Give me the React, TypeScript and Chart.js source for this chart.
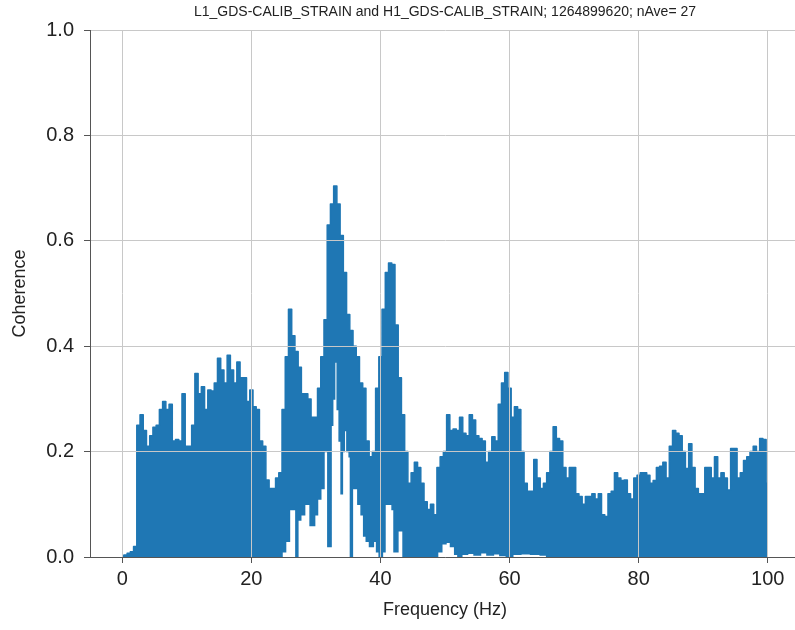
import React, { useEffect, useRef } from "react";
import { Chart, registerables } from "chart.js";
Chart.register(...registerables);

const TITLE = "L1_GDS-CALIB_STRAIN and H1_GDS-CALIB_STRAIN; 1264899620; nAve= 27";
const X_LABEL = "Frequency (Hz)";
const Y_LABEL = "Coherence";
const X_TICKS = [0, 20, 40, 60, 80, 100];
const Y_TICKS = [0, 0.2, 0.4, 0.6, 0.8, 1.0];

// Upper envelope of the coherence trace (Hz, coherence)
const upperFreq = [
  0, 0.5, 1, 1.5, 2, 2.5, 3, 3.5, 4, 4.5, 5, 5.5, 6, 6.5, 7, 7.5, 8, 8.5, 9, 9.5,
  10, 10.5, 11, 11.5, 12, 12.5, 13, 13.5, 14, 14.5, 15, 15.5, 16, 16.5, 17, 17.5, 18, 18.5, 19, 19.5,
  20, 20.5, 21, 21.5, 22, 22.5, 23, 23.5, 24, 24.5, 25, 25.5, 26, 26.5, 27, 27.5, 28, 28.5, 29, 29.5,
  30, 30.5, 31, 31.5, 32, 32.5, 33, 33.5, 34, 34.5, 35, 35.5, 36, 36.5, 37, 37.5, 38, 38.5, 39, 39.5,
  40, 40.5, 41, 41.5, 42, 42.5, 43, 43.5, 44, 44.5, 45, 45.5, 46, 46.5, 47, 47.5, 48, 48.5, 49, 49.5,
  50, 50.5, 51, 51.5, 52, 52.5, 53, 53.5, 54, 54.5, 55, 55.5, 56, 56.5, 57, 57.5, 58, 58.5, 59, 59.5,
  60, 60.5, 61, 61.5, 62, 62.5, 63, 63.5, 64, 64.5, 65, 65.5, 66, 66.5, 67, 67.5, 68, 68.5, 69, 69.5,
  70, 70.5, 71, 71.5, 72, 72.5, 73, 73.5, 74, 74.5, 75, 75.5, 76, 76.5, 77, 77.5, 78, 78.5, 79, 79.5,
  80, 80.5, 81, 81.5, 82, 82.5, 83, 83.5, 84, 84.5, 85, 85.5, 86, 86.5, 87, 87.5, 88, 88.5, 89, 89.5,
  90, 90.5, 91, 91.5, 92, 92.5, 93, 93.5, 94, 94.5, 95, 95.5, 96, 96.5, 97, 97.5, 98, 98.5, 99, 99.5,
  100,
];
const upperCoh = [
  0.002, 0.004, 0.007, 0.01, 0.02, 0.25, 0.27, 0.24, 0.21, 0.23, 0.246, 0.25, 0.28, 0.295, 0.28, 0.29, 0.22, 0.223, 0.22, 0.31,
  0.21, 0.21, 0.25, 0.348, 0.31, 0.323, 0.28, 0.317, 0.315, 0.33, 0.377, 0.355, 0.33, 0.383, 0.355, 0.33, 0.37, 0.34, 0.34, 0.295,
  0.317, 0.285, 0.28, 0.22, 0.21, 0.146, 0.13, 0.13, 0.15, 0.16, 0.28, 0.38, 0.47, 0.42, 0.39, 0.36, 0.31, 0.31, 0.3, 0.265,
  0.265, 0.32, 0.38, 0.45, 0.63, 0.67, 0.704, 0.67, 0.61, 0.54, 0.46, 0.43, 0.4, 0.38, 0.33, 0.32, 0.22, 0.19, 0.2, 0.32,
  0.38, 0.47, 0.54, 0.558, 0.555, 0.44, 0.34, 0.27, 0.2, 0.14, 0.16, 0.18, 0.17, 0.14, 0.105, 0.09, 0.1, 0.08, 0.17, 0.19,
  0.2, 0.27, 0.24, 0.243, 0.24, 0.265, 0.235, 0.23, 0.27, 0.26, 0.23, 0.225, 0.22, 0.18, 0.2, 0.228, 0.22, 0.29, 0.33, 0.35,
  0.32, 0.265, 0.285, 0.28, 0.2, 0.14, 0.125, 0.125, 0.185, 0.15, 0.13, 0.14, 0.16, 0.2, 0.247, 0.225, 0.22, 0.17, 0.15, 0.17,
  0.17, 0.12, 0.115, 0.1, 0.115, 0.115, 0.12, 0.11, 0.12, 0.08, 0.077, 0.12, 0.125, 0.16, 0.15, 0.145, 0.146, 0.12, 0.11, 0.15,
  0.155, 0.16, 0.16, 0.155, 0.14, 0.145, 0.17, 0.172, 0.18, 0.15, 0.21, 0.24, 0.235, 0.23, 0.2, 0.168, 0.215, 0.17, 0.13, 0.12,
  0.12, 0.17, 0.17, 0.15, 0.19, 0.15, 0.16, 0.15, 0.127, 0.206, 0.206, 0.15, 0.16, 0.183, 0.19, 0.2, 0.21, 0.2, 0.225, 0.223,
  0.14,
];

// Lower envelope of the coherence trace (Hz, coherence)
const lowerFreq = [
  0, 24.5, 25.0, 25.6, 26.2, 26.85, 26.95, 27.1, 27.3, 28.0, 28.5, 29.0, 29.2, 29.6, 30.0, 30.5, 31.0, 31.5, 31.8,
  31.9, 32.3, 32.4, 32.8, 33.0, 33.2, 33.4, 33.8, 34.0, 34.2, 34.6, 35.0, 35.3, 35.4, 35.6, 35.7, 36.2, 36.8, 37.2,
  37.6, 38.0, 38.6, 39.2, 39.6, 40.0, 40.6, 40.8, 41.6, 42.0, 42.2, 42.6, 42.8, 43.4, 43.6, 48.5, 49.2, 49.8, 50.5,
  51.2, 51.8, 52.2, 53, 54, 55, 56, 57, 58, 59, 60, 61, 62.5, 64, 65.5, 66, 100,
];
const lowerCoh = [
  0, 0, 0.01, 0.03, 0.09, 0.09, 0, 0, 0.07, 0.08, 0.1, 0.1, 0.06, 0.06, 0.08, 0.11, 0.13, 0.2, 0.2,
  0.02, 0.02, 0.25, 0.3, 0.37, 0.37, 0.28, 0.22, 0.12, 0.2, 0.24, 0.2, 0.19, 0, 0, 0.13, 0.13, 0.1, 0.08,
  0.04, 0.03, 0.02, 0.03, 0.01, 0, 0.01, 0.1, 0.1, 0.09, 0.01, 0.01, 0.05, 0.05, 0, 0, 0.01, 0.025, 0.028,
  0.02, 0.005, 0, 0.005, 0.007, 0.004, 0.008, 0.004, 0.006, 0.003, 0, 0.005, 0.006, 0.005, 0.004, 0, 0,
];

const BLUE = "#1f77b4";
const FONT = '"Liberation Sans", "DejaVu Sans", sans-serif';

export default function App() {
  const ref = useRef<HTMLCanvasElement | null>(null);
  useEffect(() => {
    const canvas = ref.current;
    if (!canvas) return;
    const textPlugin = {
      id: "texts",
      afterDraw(chart: any) {
        const ctx = chart.ctx;
        const a = chart.chartArea;
        const cx = (a.left + a.right) / 2;
        ctx.save();
        ctx.fillStyle = "#222";
        ctx.textAlign = "center";
        ctx.textBaseline = "middle";
        ctx.font = `14px ${FONT}`;
        ctx.fillText(TITLE, cx, 12);
        ctx.font = `18px ${FONT}`;
        ctx.fillText(X_LABEL, cx, 610);
        ctx.translate(20, (a.top + a.bottom) / 2);
        ctx.rotate(-Math.PI / 2);
        ctx.fillText(Y_LABEL, 0, 0);
        ctx.restore();
      },
    };
    const gridOpts = { color: "#c8c8c8", lineWidth: 1, tickLength: 6, tickColor: "#555", z: 1 };
    const chart = new Chart(canvas, {
      type: "line",
      data: {
        datasets: [
          {
            data: upperFreq.map((f, i) => ({ x: f, y: upperCoh[i] })),
            borderColor: BLUE,
            backgroundColor: BLUE,
            borderWidth: 1.5,
            borderJoinStyle: "round",
            pointRadius: 0,
            stepped: "middle",
            fill: 1,
          },
          {
            data: lowerFreq.map((f, i) => ({ x: f, y: lowerCoh[i] })),
            borderColor: BLUE,
            backgroundColor: BLUE,
            borderWidth: 1.5,
            pointRadius: 0,
            stepped: "middle",
            fill: false,
          },
        ],
      },
      options: {
        animation: false,
        responsive: false,
        devicePixelRatio: 1,
        layout: { padding: { top: 30, right: 20, left: 0, bottom: 0 } },
        plugins: { legend: { display: false }, tooltip: { enabled: false }, title: { display: false } },
        scales: {
          x: {
            type: "linear",
            min: -5,
            max: 105,
            afterBuildTicks: (s: any) => {
              s.ticks = X_TICKS.map((v) => ({ value: v }));
            },
            afterFit: (s: any) => {
              s.height = 73;
            },
            grid: gridOpts,
            border: { display: true, color: "#555", width: 1, z: 2 },
            ticks: {
              font: { family: FONT, size: 20 },
              color: "#222",
              padding: 4,
              maxRotation: 0,
              z: 2,
              callback: (v: any) => String(v),
            },
          },
          y: {
            type: "linear",
            min: 0,
            max: 1,
            afterBuildTicks: (s: any) => {
              s.ticks = Y_TICKS.map((v) => ({ value: v }));
            },
            afterFit: (s: any) => {
              s.width = 90;
            },
            grid: gridOpts,
            border: { display: true, color: "#555", width: 1, z: 2 },
            ticks: {
              font: { family: FONT, size: 20 },
              color: "#222",
              padding: 10,
              z: 2,
              callback: (v: any) => Number(v).toFixed(1),
            },
          },
        },
      },
      plugins: [textPlugin],
    } as any);
    return () => chart.destroy();
  }, []);
  return (
    <div
      style={{
        position: "fixed",
        left: 0,
        top: 0,
        width: 795,
        height: 630,
        overflow: "hidden",
        background: "#fff",
      }}
    >
      <canvas ref={ref} width={820} height={630} style={{ display: "block" }} />
    </div>
  );
}
